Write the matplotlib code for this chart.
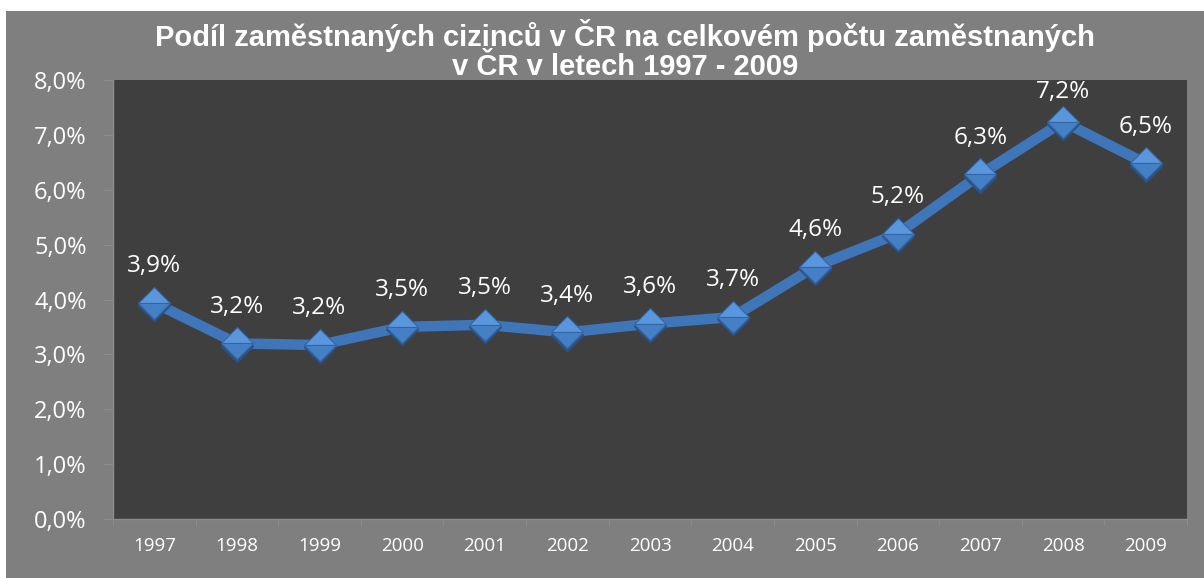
import numpy as np
import matplotlib
matplotlib.use("Agg")
import matplotlib.pyplot as plt
from matplotlib.patches import Rectangle

years = ["1997", "1998", "1999", "2000", "2001", "2002", "2003",
         "2004", "2005", "2006", "2007", "2008", "2009"]
share = [3.94, 3.20, 3.17, 3.50, 3.54, 3.40, 3.56, 3.68, 4.60, 5.20, 6.28, 7.24, 6.48]
yticks = [0, 1, 2, 3, 4, 5, 6, 7, 8]

title = "Podíl zaměstnaných cizinců v ČR na celkovém počtu zaměstnaných\nv ČR v letech 1997 - 2009"

W, H = 1204, 578
fig = plt.figure(figsize=(W / 100, H / 100), dpi=100, facecolor="white")

# grey chart area
fig.patches.append(Rectangle((6 / W, 0), 1 - 6 / W, (H - 11) / H,
                             transform=fig.transFigure, facecolor="#7f7f7f",
                             edgecolor="none", zorder=-1))

ax = fig.add_axes([113 / W, (H - 519) / H, 1074 / W, 439 / H])
ax.set_zorder(1)
ax.set_facecolor("#3f3f3f")

x = np.arange(len(years))
ax.plot(x, share, color="#3f75b9", lw=7.5, solid_capstyle="butt", zorder=2)
# darker diamond underneath as a small shadow
ax.plot(x, np.array(share) - 0.04, ls="none", marker="D", ms=16,
        mfc="#2b5283", mec="#2b5283", zorder=3)
ax.plot(x, share, ls="none", marker="D", ms=16, fillstyle="top",
        mfc="#5a96dc", mfcalt="#4580c5", mec="#3466a6", mew=0.8, zorder=4)

for xi, v in zip(x, share):
    ax.text(xi, min(v + 0.67, 7.78), f"{v:.1f}%".replace(".", ","),
            ha="center", va="center", color="white", fontsize=17.5,
            family="Open Sans", zorder=6)

ax.set_xlim(-0.5, len(years) - 0.5)
ax.set_ylim(0, 8)
ax.set_yticks(yticks)
ax.set_yticklabels([f"{t},0%" for t in yticks], family="Open Sans",
                   fontsize=17, color="white")
ax.set_xticks(np.arange(len(years) + 1) - 0.5)
ax.set_xticklabels([])
ax.set_xticks(x, minor=True)
ax.set_xticklabels(years, minor=True, family="Open Sans", fontsize=13.5,
                   color="white")
ax.tick_params(axis="y", length=7, color="#8c8c8c", pad=12)
ax.tick_params(axis="x", which="major", length=4, color="#8c8c8c")
ax.tick_params(axis="x", which="minor", length=0, pad=13)

for side in ["top", "right"]:
    ax.spines[side].set_visible(False)
for side in ["left", "bottom"]:
    ax.spines[side].set_color("#8c8c8c")
    ax.spines[side].set_linewidth(1)

fig.text(625 / W, (H - 50) / H, title, ha="center",
         va="center", color="white", fontsize=21, fontweight="bold",
         family="Liberation Sans", linespacing=1.05)

fig.savefig("out.png", dpi=100, facecolor="white")
